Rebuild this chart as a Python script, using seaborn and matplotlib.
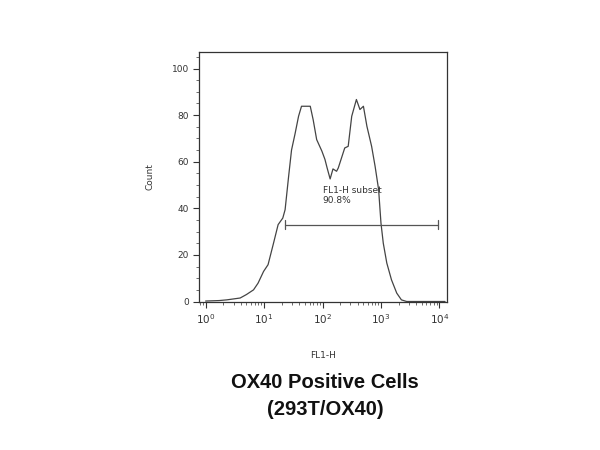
import numpy as np
import pandas as pd
import matplotlib
matplotlib.use("Agg")
import matplotlib.pyplot as plt
import seaborn as sns

# histogram trace (FL1-H, log scale)
fl1_h = [1.0, 1.7, 2.3, 3.9, 5.0, 6.6, 7.9, 9.8, 11.7, 14.5, 17.4, 20.9, 22.9, 26.3, 29.5,
         33.9, 38.9, 43.7, 53.7, 61.7, 69.2, 79.4, 97.7, 110, 120, 135, 151, 174, 186,
         240, 275, 316, 380, 437, 501, 575, 692, 794, 912, 1000, 1096, 1259, 1514, 1862,
         2239, 2754, 5000, 8000, 12500]
count = [0.2, 0.4, 0.7, 1.5, 3, 5, 7.9, 12.9, 15.8, 25, 33, 35.8, 39.4, 53.7, 65,
         72, 79.5, 83.8, 83.8, 83.8, 78, 69.5, 64.5, 61, 57.3, 52.6, 56.9, 55.9, 57.3,
         65.9, 66.6, 79.5, 86.7, 82.4, 83.8, 75.2, 66.6, 58, 48, 33.7, 25, 16.5, 9.3, 3.6,
         0.7, 0, 0, 0, 0]

gate_lo, gate_hi, gate_y = 22.4, 9500, 33
gate_label = "FL1-H subset\n90.8%"

df = pd.DataFrame({"FL1-H": fl1_h, "Count": count})

sns.set_style("white")
fig = plt.figure(figsize=(6, 4.5), dpi=100)
ax = fig.add_axes([0.332, 0.330, 0.413, 0.554])

sns.lineplot(data=df, x="FL1-H", y="Count", ax=ax, color="#444444", linewidth=0.9)
ax.set_xscale("log")
ax.set_xlim(10 ** -0.11, 10 ** 4.13)
ax.set_ylim(0, 107)

# gate
ax.plot([gate_lo, gate_hi], [gate_y, gate_y], color="#555555", lw=0.9)
for gx in (gate_lo, gate_hi):
    ax.plot([gx, gx], [gate_y - 1.8, gate_y + 1.8], color="#555555", lw=0.9)
ax.text(100, 45.5, gate_label, fontsize=6.5, color="#333333", va="center")

ax.set_xticks([1, 10, 100, 1000, 10000])
ax.set_xticklabels(["$10^0$", "$10^1$", "$10^2$", "$10^3$", "$10^4$"])
ax.set_yticks([0, 20, 40, 60, 80, 100])
ax.yaxis.set_minor_locator(matplotlib.ticker.MultipleLocator(5))
ax.xaxis.set_minor_locator(matplotlib.ticker.LogLocator(base=10, subs=np.arange(2, 10)))
ax.tick_params(axis="both", which="major", direction="out", length=4, width=0.8,
               labelsize=6.5, colors="#333333", bottom=True, left=True)
ax.tick_params(axis="x", which="major", labelsize=7.5)
ax.tick_params(axis="both", which="minor", direction="out", length=2, width=0.6,
               bottom=True, left=True, colors="#555555")
for s in ax.spines.values():
    s.set_color("#333333")
    s.set_linewidth(0.9)

ax.set_xlabel("FL1-H", fontsize=6.5, color="#333333", labelpad=18)
ax.set_ylabel("Count", fontsize=6.5, color="#333333", labelpad=12)

fig.text(0.542, 0.120, "OX40 Positive Cells\n(293T/OX40)", ha="center", va="center",
         fontsize=14.5, fontweight="bold", family="Liberation Sans", linespacing=1.5,
         color="#111111")

fig.savefig("out.png", dpi=100)
